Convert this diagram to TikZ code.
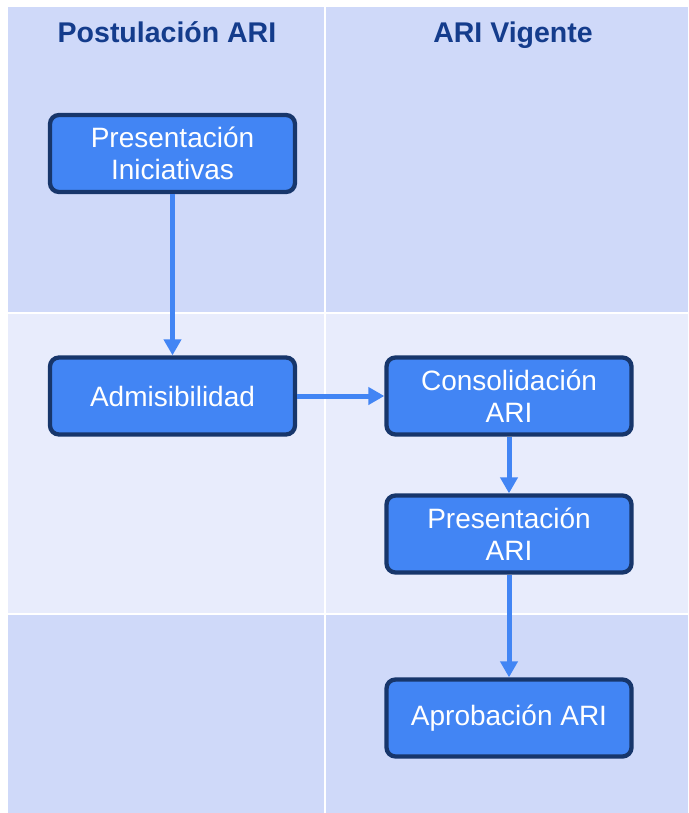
\documentclass[tikz,border=0pt]{standalone}
\usepackage{fontspec}
\setmainfont{Liberation Sans}
\usetikzlibrary{arrows.meta}
\definecolor{laneDark}{HTML}{CFD9F9}
\definecolor{laneLight}{HTML}{E8ECFC}
\definecolor{boxBlue}{HTML}{4285F4}
\definecolor{boxEdge}{HTML}{17366B}
\definecolor{headBlue}{HTML}{143C8C}
\tikzset{
  stage/.style={draw=boxEdge, line width=4.3pt, fill=boxBlue, rounded corners=9pt,
    text=white, minimum width=245pt, minimum height=77pt, inner sep=0pt,
    align=center, font=\fontsize{28}{32}\selectfont},
  lanehead/.style={text=headBlue, anchor=base, font=\bfseries\fontsize{28.5}{32}\selectfont},
  flow/.style={draw=boxBlue, line width=5pt, -{Triangle[length=16pt,width=17pt]}}
}
\begin{document}
\begin{tikzpicture}[x=1pt,y=-1pt]
        \useasboundingbox (0,0) rectangle (688,813);
        \fill[laneDark]  (8,7)       rectangle (323.5,312);
        \fill[laneDark]  (325.7,7)   rectangle (688,312);
        \fill[laneLight] (8,314)     rectangle (323.5,612.7);
        \fill[laneLight] (325.7,314) rectangle (688,612.7);
        \fill[laneDark]  (8,615.3)   rectangle (323.5,813);
        \fill[laneDark]  (325.7,615.3) rectangle (688,813);
        \node[lanehead] (postulacion) at (167,43) {Postulación ARI};
        \node[lanehead] (vigente) at (513,43) {ARI Vigente};
        \node[stage] (iniciativas) at (172.5,153.5) {Presentación\\Iniciativas};
        \node[stage] (admisibilidad) at (172.5,396) {Admisibilidad};
        \node[stage] (consolidacion) at (509,396) {Consolidación\\ARI};
        \node[stage] (presentacion) at (509,534) {Presentación\\ARI};
        \node[stage] (aprobacion) at (509,718) {Aprobación ARI};
      \draw[flow] (iniciativas) -- (admisibilidad);
      \draw[flow] (admisibilidad) -- (consolidacion);
      \draw[flow] (consolidacion) -- (presentacion);
      \draw[flow] (presentacion) -- (aprobacion);
      \end{tikzpicture}
\end{document}
